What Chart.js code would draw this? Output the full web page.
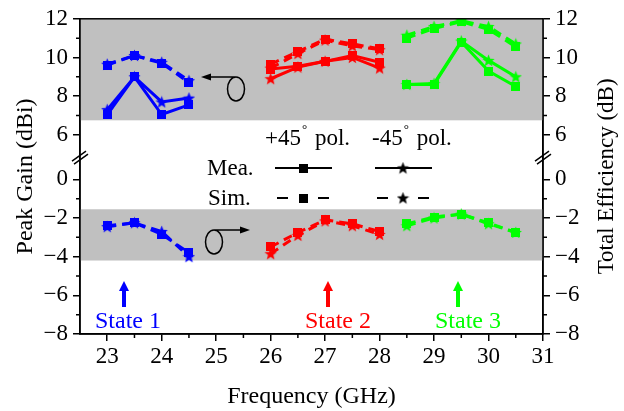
<!DOCTYPE html>
<html>
<head>
<meta charset="utf-8">
<script src="https://cdn.jsdelivr.net/npm/chart.js@4.4.1/dist/chart.umd.min.js"></script>
<style>
html, body { margin: 0; padding: 0; background: #fff; }
#wrap { width: 624px; height: 411px; }
</style>
</head>
<body>
<div id="wrap"><canvas id="canvas" width="624" height="411"></canvas></div>
<script>
// frequencies (GHz) of each state
var freqState1 = [23, 23.5, 24, 24.5];
var freqState2 = [26, 26.5, 27, 27.5, 28];
var freqState3 = [28.5, 29, 29.5, 30, 30.5];

// peak gain (dBi), upper part of the broken axis
var gainMeaP45S1 = [7.05, 9.0, 7.05, 7.55];
var gainMeaM45S1 = [7.3, 9.0, 7.7, 7.9];
var gainSimP45S1 = [9.6, 10.1, 9.7, 8.7];
var gainSimM45S1 = [9.65, 10.1, 9.75, 8.8];

var gainMeaP45S2 = [9.4, 9.55, 9.8, 10.1, 9.75];
var gainMeaM45S2 = [8.9, 9.5, 9.8, 10.0, 9.45];
var gainSimP45S2 = [9.65, 10.3, 10.95, 10.7, 10.45];
var gainSimM45S2 = [9.45, 10.2, 10.9, 10.6, 10.4];

var gainMeaP45S3 = [8.6, 8.6, 10.8, 9.3, 8.5];
var gainMeaM45S3 = [8.6, 8.65, 10.85, 9.85, 9.0];
var gainSimP45S3 = [11.0, 11.5, 11.85, 11.45, 10.55];
var gainSimM45S3 = [11.15, 11.6, 11.9, 11.6, 10.7];

// total efficiency (dB), lower part of the broken axis
var effSimP45S1 = [-2.4, -2.25, -2.85, -3.8];
var effSimM45S1 = [-2.45, -2.25, -2.7, -4.0];
var effSimP45S2 = [-3.5, -2.75, -2.1, -2.3, -2.7];
var effSimM45S2 = [-3.85, -2.9, -2.15, -2.4, -2.85];
var effSimP45S3 = [-2.3, -1.95, -1.8, -2.25, -2.75];
var effSimM45S3 = [-2.4, -2.0, -1.8, -2.3, -2.75];

// tick labels
var freqTicks = [23, 24, 25, 26, 27, 28, 29, 30, 31];
var lowerTicks = [-8, -6, -4, -2, 0];
var upperTicks = [6, 8, 10, 12];

// upper section is shifted down so that 6 sits just above the break
var SHIFT = 3.7;

var BLUE = '#0000ff', RED = '#ff0000', GREEN = '#00ff00';
var FONT = '"Liberation Serif", "Times New Roman", serif';

function marker(shape, color) {
    var c = document.createElement('canvas');
    var s = shape == 'star' ? 13 : 9;
    c.width = s; c.height = s;
    var g = c.getContext('2d');
    g.fillStyle = color;
    if (shape == 'star') {
        g.beginPath();
        for (var i = 0; i < 10; i++) {
            var r = i % 2 == 0 ? 6.5 : 2.8;
            var a = -Math.PI / 2 + i * Math.PI / 5;
            g.lineTo(6.5 + r * Math.cos(a), 7 + r * Math.sin(a));
        }
        g.closePath();
        g.fill();
    } else {
        g.fillRect(0, 0, s, s);
    }
    return c;
}

function series(freq, vals, color, shape, dashed, upper) {
    return {
        data: freq.map(function (f, i) {
            return { x: f, y: upper ? vals[i] - SHIFT : vals[i] };
        }),
        showLine: true,
        borderColor: color,
        backgroundColor: color,
        borderWidth: 3,
        borderDash: dashed ? [9, 6] : [],
        pointStyle: marker(shape, color),
        pointRadius: 5,
        fill: false
    };
}

var datasets = [
    series(freqState1, gainMeaP45S1, BLUE, 'rect', false, true),
    series(freqState1, gainMeaM45S1, BLUE, 'star', false, true),
    series(freqState1, gainSimP45S1, BLUE, 'rect', true, true),
    series(freqState1, gainSimM45S1, BLUE, 'star', true, true),
    series(freqState2, gainMeaP45S2, RED, 'rect', false, true),
    series(freqState2, gainMeaM45S2, RED, 'star', false, true),
    series(freqState2, gainSimP45S2, RED, 'rect', true, true),
    series(freqState2, gainSimM45S2, RED, 'star', true, true),
    series(freqState3, gainMeaP45S3, GREEN, 'rect', false, true),
    series(freqState3, gainMeaM45S3, GREEN, 'star', false, true),
    series(freqState3, gainSimP45S3, GREEN, 'rect', true, true),
    series(freqState3, gainSimM45S3, GREEN, 'star', true, true),
    series(freqState1, effSimP45S1, BLUE, 'rect', true, false),
    series(freqState1, effSimM45S1, BLUE, 'star', true, false),
    series(freqState2, effSimP45S2, RED, 'rect', true, false),
    series(freqState2, effSimM45S2, RED, 'star', true, false),
    series(freqState3, effSimP45S3, GREEN, 'rect', true, false),
    series(freqState3, effSimM45S3, GREEN, 'star', true, false)
];

var yTickValues = lowerTicks.concat(upperTicks.map(function (v) { return v - SHIFT; }));

function yTickLabel(v) {
    var n = v > 1 ? Math.round(v + SHIFT) : v;
    return n < 0 ? '\u2212' + Math.abs(n) : String(n);
}

function yScale(pos, width) {
    return {
        type: 'linear',
        position: pos,
        min: -8,
        max: 12 - SHIFT,
        afterBuildTicks: function (s) { s.ticks = yTickValues.map(function (v) { return { value: v }; }); },
        afterFit: function (s) { s.width = width; },
        ticks: { font: { family: FONT, size: 23 }, color: '#000', padding: 5, callback: yTickLabel },
        grid: { drawOnChartArea: false, drawTicks: true, tickLength: 7, color: '#000', lineWidth: 1.5 },
        border: { display: true, color: '#000', width: 1.5 }
    };
}

function arrowHead(ctx, x, y, dx, dy, len, half) {
    var px = -dy, py = dx;
    ctx.beginPath();
    ctx.moveTo(x, y);
    ctx.lineTo(x - dx * len + px * half, y - dy * len + py * half);
    ctx.lineTo(x - dx * len - px * half, y - dy * len - py * half);
    ctx.closePath();
    ctx.fill();
}

var decorations = {
    id: 'decorations',
    beforeDatasetsDraw: function (chart) {
        var ctx = chart.ctx, a = chart.chartArea, y = chart.scales.y;
        ctx.save();
        ctx.fillStyle = '#c0c0c0';
        var t1 = y.getPixelForValue(12 - SHIFT), b1 = y.getPixelForValue(6.75 - SHIFT);
        ctx.fillRect(a.left, t1, a.right - a.left, b1 - t1);
        var t2 = y.getPixelForValue(-1.55), b2 = y.getPixelForValue(-4.2);
        ctx.fillRect(a.left, t2, a.right - a.left, b2 - t2);
        ctx.restore();
    },
    afterDraw: function (chart) {
        var ctx = chart.ctx, a = chart.chartArea, x = chart.scales.x, y = chart.scales.y;
        ctx.save();
        ctx.strokeStyle = '#000';
        ctx.fillStyle = '#000';
        ctx.lineWidth = 1.5;
        // frame
        ctx.strokeRect(a.left, a.top, a.right - a.left, a.bottom - a.top);

        // minor ticks
        ctx.beginPath();
        [-7, -5, -3, -1, 7 - SHIFT, 9 - SHIFT, 11 - SHIFT].forEach(function (v) {
            var py = y.getPixelForValue(v);
            ctx.moveTo(a.left, py); ctx.lineTo(a.left - 4, py);
            ctx.moveTo(a.right, py); ctx.lineTo(a.right + 4, py);
        });
        for (var f = 23.5; f < 31; f += 1) {
            var px = x.getPixelForValue(f);
            ctx.moveTo(px, a.bottom); ctx.lineTo(px, a.bottom + 4);
        }
        ctx.stroke();

        // axis break marks
        var by = y.getPixelForValue(1.15);
        ctx.beginPath();
        [a.left, a.right].forEach(function (ax) {
            ctx.moveTo(ax - 8, by + 4); ctx.lineTo(ax + 6, by - 6);
            ctx.moveTo(ax - 6, by + 7); ctx.lineTo(ax + 8, by - 3);
        });
        ctx.stroke();

        // axis titles
        ctx.font = '24px ' + FONT;
        ctx.textAlign = 'center';
        ctx.textBaseline = 'middle';
        ctx.fillText('Frequency (GHz)', (a.left + a.right) / 2, 397);
        ctx.save();
        ctx.translate(26, (a.top + a.bottom) / 2);
        ctx.rotate(-Math.PI / 2);
        ctx.fillText('Peak Gain (dBi)', 0, 0);
        ctx.restore();
        ctx.save();
        ctx.translate(607, (a.top + a.bottom) / 2);
        ctx.rotate(-Math.PI / 2);
        ctx.font = '23px ' + FONT;
        ctx.fillText('Total Efficiency (dB)', 0, 0);
        ctx.restore();

        // legend
        ctx.textAlign = 'left';
        ctx.textBaseline = 'alphabetic';
        function pol(x0, sign) {
            ctx.font = '23px ' + FONT;
            ctx.fillText(sign + '45', x0, 145);
            var w = ctx.measureText(sign + '45').width;
            ctx.font = '13px ' + FONT;
            ctx.fillText('\u00b0', x0 + w + 1, 133);
            ctx.font = '23px ' + FONT;
            ctx.fillText('pol.', x0 + w + 14, 145);
        }
        pol(265, '+');
        pol(372, '-');
        ctx.font = '23px ' + FONT;
        ctx.fillText('Mea.', 207, 175);
        ctx.fillText('Sim.', 208, 205);
        ctx.lineWidth = 2;
        ctx.beginPath();
        ctx.moveTo(275, 168); ctx.lineTo(332, 168);
        ctx.moveTo(375, 168); ctx.lineTo(432, 168);
        ctx.moveTo(277, 198); ctx.lineTo(288, 198);
        ctx.moveTo(318, 198); ctx.lineTo(329, 198);
        ctx.moveTo(377, 198); ctx.lineTo(388, 198);
        ctx.moveTo(418, 198); ctx.lineTo(429, 198);
        ctx.stroke();
        var sq = marker('rect', '#000'), st = marker('star', '#000');
        ctx.drawImage(sq, 303 - 4.5, 168 - 4.5);
        ctx.drawImage(sq, 303 - 4.5, 198 - 4.5);
        ctx.drawImage(st, 403 - 6.5, 168 - 6.5);
        ctx.drawImage(st, 403 - 6.5, 198 - 6.5);

        // polarisation sketches
        ctx.lineWidth = 1.5;
        ctx.beginPath();
        ctx.ellipse(236, 89, 8.5, 12, 0, 0, Math.PI * 2);
        ctx.moveTo(236, 77); ctx.lineTo(208, 77);
        ctx.stroke();
        arrowHead(ctx, 201, 77, -1, 0, 10, 3.5);
        ctx.beginPath();
        ctx.ellipse(214, 242, 8.5, 12, 0, 0, Math.PI * 2);
        ctx.moveTo(214, 230); ctx.lineTo(243, 230);
        ctx.stroke();
        arrowHead(ctx, 250, 230, 1, 0, 10, 3.5);

        // state markers
        [[124, BLUE, 'State 1', 95], [328, RED, 'State 2', 305], [458, GREEN, 'State 3', 435]].forEach(function (s) {
            ctx.fillStyle = s[1];
            ctx.fillRect(s[0] - 2, 290, 4, 17);
            arrowHead(ctx, s[0], 281, 0, -1, 10, 5);
            ctx.font = '24px ' + FONT;
            ctx.fillText(s[2], s[3], 328);
        });
        ctx.restore();
    }
};

var config = {
    type: 'scatter',
    data: { datasets: datasets },
    options: {
        responsive: false,
        animation: false,
        layout: { padding: { top: 18, left: 0, right: 0, bottom: 0 } },
        plugins: { legend: { display: false }, tooltip: { enabled: false } },
        scales: {
            x: {
                type: 'linear',
                min: 22.5,
                max: 31,
                afterBuildTicks: function (s) { s.ticks = freqTicks.map(function (v) { return { value: v }; }); },
                afterFit: function (s) { s.height = 77; },
                ticks: { font: { family: FONT, size: 23 }, color: '#000', padding: 2, maxRotation: 0 },
                grid: { drawOnChartArea: false, drawTicks: true, tickLength: 7, color: '#000', lineWidth: 1.5 },
                border: { display: true, color: '#000', width: 1.5 }
            },
            y: yScale('left', 80),
            y2: yScale('right', 81)
        }
    },
    plugins: [decorations]
};

window.myChart = new Chart(document.getElementById('canvas'), config);
</script>
</body>
</html>
